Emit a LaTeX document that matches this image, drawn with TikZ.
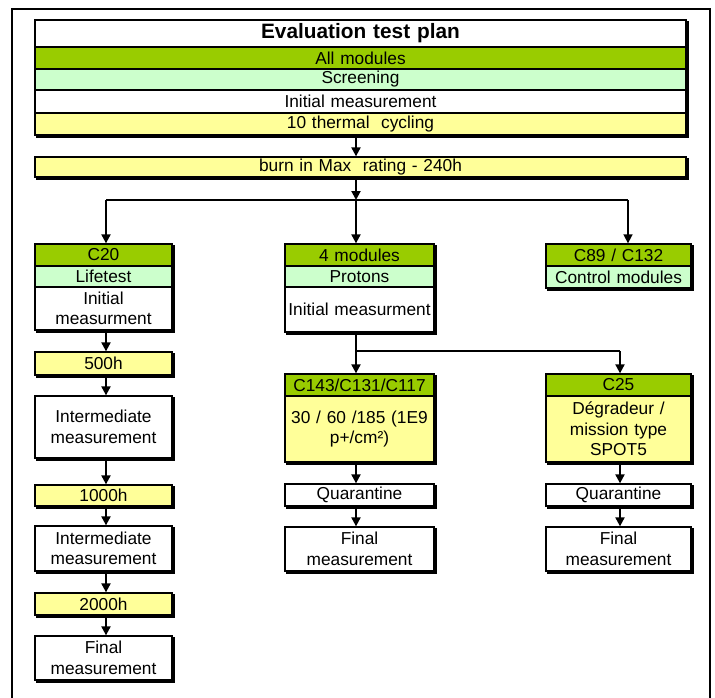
\documentclass[tikz,border=0pt]{standalone}
\usepackage{fontspec}
\setmainfont{Liberation Sans}
\usetikzlibrary{arrows.meta,calc}
\definecolor{hdgreen}{HTML}{99CC00}
\definecolor{ltgreen}{HTML}{CCFFCC}
\definecolor{ltyellow}{HTML}{FFFF99}
\newcommand\fsN{\fontsize{17.3}{20.5}\selectfont}
\newcommand\fsT{\fontsize{20.8}{24}\selectfont\bfseries}
\newcommand\shad[2]{\draw[line width=1.6pt] ($(#1.north east)+(1.3,2)$) -- ($(#2.south east)+(1.3,1.3)$) -- ($(#2.south west)+(2,1.3)$);}
\tikzset{
  box/.style={draw=black, line width=1.3pt, inner sep=0pt, align=center, font=\fsN, fill=white},
  wide/.style={box, minimum width=651, text width=640},
  colL/.style={box, minimum width=137, text width=135},
  colM/.style={box, minimum width=149, text width=148},
  colR/.style={box, minimum width=145, text width=144},
  hd/.style={fill=hdgreen},
  lg/.style={fill=ltgreen},
  yl/.style={fill=ltyellow},
  arr/.style={line width=2pt, -{Triangle[length=9pt,width=9pt]}},
  arrthin/.style={line width=1.6pt, -{Triangle[length=9pt,width=9pt]}},
  hline/.style={line width=1.2pt}
}
\begin{document}
\begin{tikzpicture}[x=1pt,y=-1pt]
\useasboundingbox (0,0) rectangle (715,697);
% outer frame
\draw[line width=1.2pt] (12,700) -- (12,9) -- (710,9) -- (710,700);
% top block
\node[wide, minimum height=27, font=\fsT] (title) at (360.5,33.5) {Evaluation test plan};
\node[wide, hd, minimum height=22] (allmod) at (360.5,58) {All modules};
\node[wide, lg, minimum height=21] (screen) at (360.5,79.5) {Screening};
\node[wide, minimum height=23] (initm) at (360.5,101.5) {Initial measurement};
\node[wide, yl, minimum height=22] (therm) at (360.5,124) {10 thermal~~cycling};
\shad{title}{therm}
\node[wide, yl, minimum height=20] (burn) at (360.5,167) {burn in Max~~rating - 240h};
\shad{burn}{burn}
% left column
\node[colL, hd, minimum height=22] (c20) at (103.5,255) {C20};
\node[colL, lg, minimum height=21] (life) at (103.5,276.5) {Lifetest};
\node[colL, minimum height=43] (linit) at (103.5,308.5) {Initial\\measurment};
\shad{c20}{linit}
\node[colL, yl, minimum height=23] (h500) at (103.5,363.5) {500h};
\shad{h500}{h500}
\node[colL, minimum height=62] (inter1) at (103.5,427) {Intermediate\\measurement};
\shad{inter1}{inter1}
\node[colL, yl, minimum height=21] (h1000) at (103.5,495.5) {1000h};
\shad{h1000}{h1000}
\node[colL, minimum height=45] (inter2) at (103.5,548.5) {Intermediate\\measurement};
\shad{inter2}{inter2}
\node[colL, yl, minimum height=22] (h2000) at (103.5,604) {2000h};
\shad{h2000}{h2000}
\node[colL, minimum height=44] (lfinal) at (103.5,658) {Final\\measurement};
\shad{lfinal}{lfinal}
% middle column
\node[colM, hd, minimum height=22] (m4) at (359.5,255) {4 modules};
\node[colM, lg, minimum height=21] (mprot) at (359.5,276.5) {Protons};
\node[colM, minimum height=45] (minit) at (359.5,309.5) {Initial measurment};
\shad{m4}{minit}
\node[colM, hd, minimum height=22] (c143) at (359.5,385) {C143/C131/C117};
\node[colM, yl, minimum height=66] (dose) at (359.5,429) {30 / 60 /185 (1E9\\p+/cm²)};
\shad{c143}{dose}
\node[colM, minimum height=22] (mquar) at (359.5,495) {Quarantine};
\shad{mquar}{mquar}
\node[colM, minimum height=44] (mfinal) at (359.5,549) {Final\\measurement};
\shad{mfinal}{mfinal}
% right column
\node[colR, hd, minimum height=22] (c89) at (618.5,255) {C89 / C132};
\node[colR, lg, minimum height=22] (ctrl) at (618.5,277) {Control modules};
\shad{c89}{ctrl}
\node[colR, hd, minimum height=22] (c25) at (618.5,385) {C25};
\node[colR, yl, minimum height=66] (degr) at (618.5,429) {Dégradeur /\\mission type\\SPOT5};
\shad{c25}{degr}
\node[colR, minimum height=22] (rquar) at (618.5,495) {Quarantine};
\shad{rquar}{rquar}
\node[colR, minimum height=44] (rfinal) at (618.5,549) {Final\\measurement};
\shad{rfinal}{rfinal}
% connector coordinates
\coordinate (sp) at (356,200);
\coordinate (jl) at (106,200);
\coordinate (jr) at (628,200);
\coordinate (lx) at (106,0);
\coordinate (rx) at (620,0);
\coordinate (mb) at (620,351);
% top connectors
\draw[arr] (therm.south -| sp) -- (burn.north -| sp);
\draw[arr] (burn.south -| sp) -- (sp);
\draw[hline] (jl) -- (jr);
\draw[arr] (sp) -- (m4.north -| sp);
\draw[arr] (jl) -- (c20.north -| jl);
\draw[arrthin] (jr) -- (c89.north -| jr);
% left column connectors
\draw[arr] (linit.south -| lx) -- (h500.north -| lx);
\draw[arr] (h500.south -| lx) -- (inter1.north -| lx);
\draw[arr] (inter1.south -| lx) -- (h1000.north -| lx);
\draw[arr] (h1000.south -| lx) -- (inter2.north -| lx);
\draw[arr] (inter2.south -| lx) -- (h2000.north -| lx);
\draw[arr] (h2000.south -| lx) -- (lfinal.north -| lx);
% middle connectors
\draw[arr] (minit.south -| sp) -- (c143.north -| sp);
\draw[hline] (sp |- mb) -- (mb);
\draw[arr] (mb) -- (c25.north -| mb);
\draw[arr] (dose.south -| sp) -- (mquar.north -| sp);
\draw[arr] (mquar.south -| sp) -- (mfinal.north -| sp);
% right connectors
\draw[arr] (degr.south -| rx) -- (rquar.north -| rx);
\draw[arr] (rquar.south -| rx) -- (rfinal.north -| rx);
\end{tikzpicture}
\end{document}
